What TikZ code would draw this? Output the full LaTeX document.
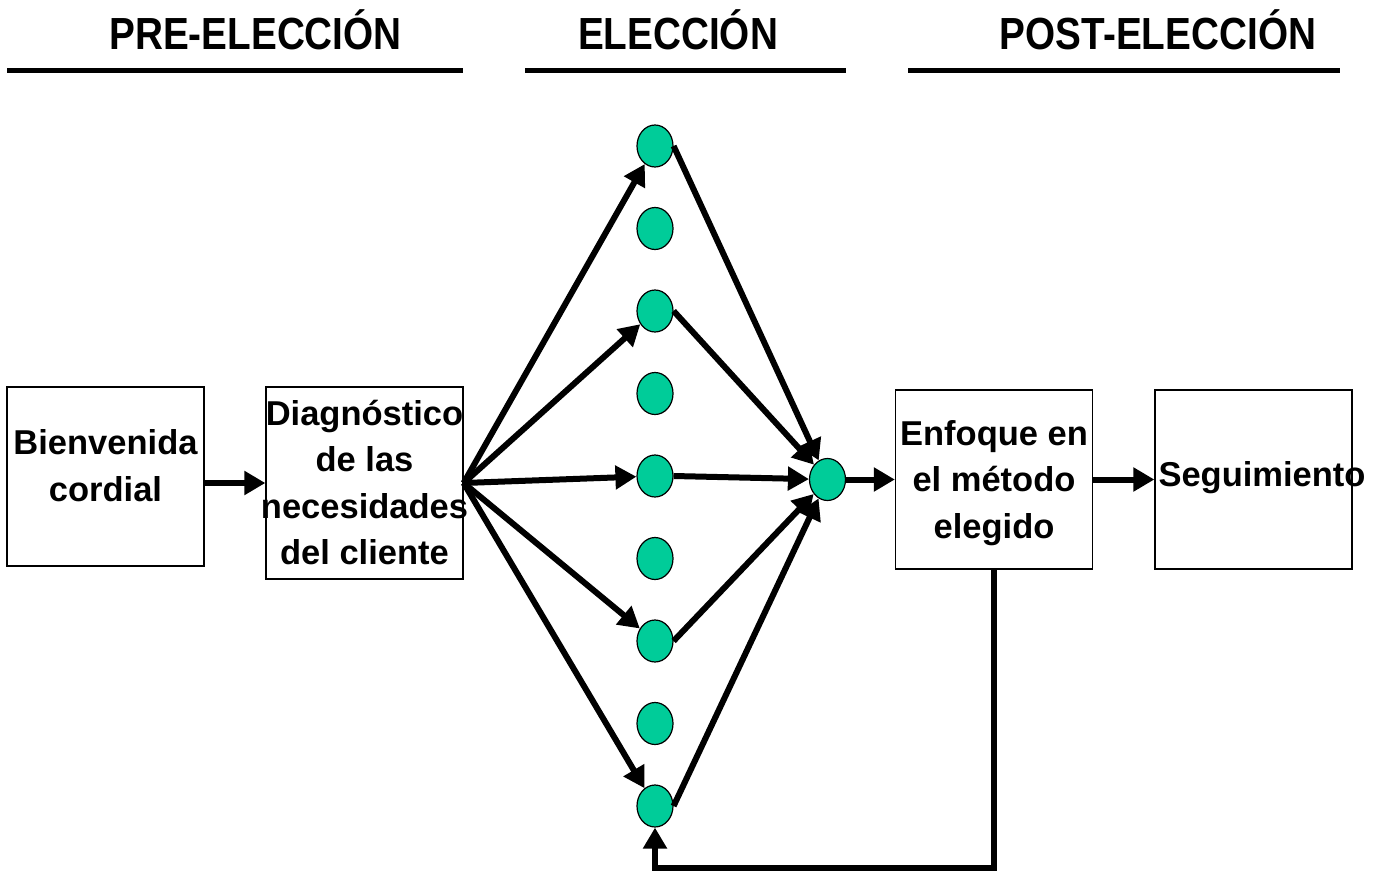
\documentclass[tikz,border=0pt]{standalone}
\usepackage{graphicx}
\usepackage{fontspec}
\setmainfont{Liberation Sans}
\usetikzlibrary{arrows.meta,shapes.geometric}
\definecolor{dotgreen}{RGB}{0,204,153}
\tikzset{
  boxnode/.style={draw=black, line width=1.3pt, minimum width=197pt, minimum height=179pt, inner sep=0pt},
  txt/.style={align=center, inner sep=0pt, font=\fontsize{34.5}{46.5}\selectfont\bfseries},
  titletxt/.style={anchor=base, inner sep=0pt, font=\fontsize{45}{50}\selectfont\bfseries},
  rule/.style={line width=5pt},
  dot/.style={ellipse, draw=black, line width=1.2pt, fill=dotgreen, minimum width=36pt, minimum height=42pt, inner sep=0pt},
  arr/.style={line width=6pt, -{Triangle[length=21pt,width=23pt]}},
}
\begin{document}
\begin{tikzpicture}[x=1pt,y=-1pt]
\useasboundingbox (0,0) rectangle (1375,872);
% titles
\node[titletxt] (h1) at (255.5,50) {\scalebox{0.86}[1]{PRE-ELECCIÓN}};
\node[titletxt] (h2) at (678,50) {\scalebox{0.86}[1]{ELECCIÓN}};
\node[titletxt] (h3) at (1158,50) {\scalebox{0.86}[1]{POST-ELECCIÓN}};
\coordinate (l1a) at (7,70.5); \coordinate (l1b) at (463,70.5);
\coordinate (l2a) at (525,70.5); \coordinate (l2b) at (846,70.5);
\coordinate (l3a) at (908,70.5); \coordinate (l3b) at (1340,70.5);
\draw[rule] (l1a) -- (l1b);
\draw[rule] (l2a) -- (l2b);
\draw[rule] (l3a) -- (l3b);
% boxes
\node[boxnode] (b1) at (105.5,476.5) {};
\node[txt] (t1) at (105.5,465.5) {Bienvenida\\cordial};
\node[boxnode, minimum height=192pt] (b2) at (364.5,483) {};
\node[txt] (t2) at (364.5,482.5) {Diagnóstico\\de las\\necesidades\\del cliente};
\node[boxnode] (b3) at (994,479.5) {};
\node[txt] (t3) at (994,483) {Enfoque en\\el método\\elegido};
\node[boxnode] (b4) at (1253.5,479.5) {};
\node[txt] (t4) at (1262,478) {Seguimiento};
% dots
\foreach \i/\y in {1/146,2/228.5,3/311,4/393.5,5/476,6/558.5,7/641,8/723.5,9/806}
  \node[dot] (c\i) at (655,\y) {};
\node[dot] (m) at (827.5,479.5) {};
\coordinate (o) at (b2.east);
% connectors
\draw[arr] (b1.east |- b2.west) -- (b2.west);
\foreach \i in {1,3,5,7,9}
  \draw[arr] (o) -- (c\i);
\foreach \i in {1,3,5,7,9}
  \draw[arr] (c\i.east) -- (m);
\draw[arr] (m) -- (b3);
\draw[arr] (b3) -- (b4);
\draw[arr] (b3.south) -- (b3.south |- 0,868) -| (c9.south);
\end{tikzpicture}
\end{document}
